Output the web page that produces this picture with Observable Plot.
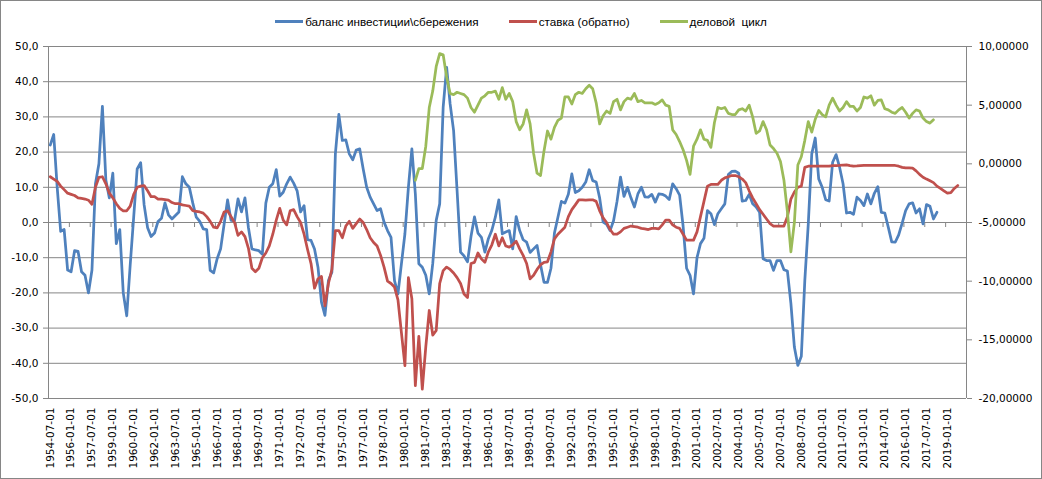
<!DOCTYPE html>
<html>
<head>
<meta charset="utf-8">
<script src="https://cdn.jsdelivr.net/npm/d3@7"></script>
<script src="https://cdn.jsdelivr.net/npm/@observablehq/plot@0.6"></script>
<style>
  html, body { margin: 0; padding: 0; background: #fff; }
  #chart { position: relative; width: 1042px; height: 479px; box-sizing: border-box; border: 1px solid #868686; background: #fff; overflow: hidden; }
  #legend { height: 36px; display: flex; justify-content: center; align-items: center; gap: 30px; font-family: "Liberation Sans", Arial, sans-serif; font-size: 11.7px; color: #000; padding-top: 4px; box-sizing: border-box; }
  .item { display: flex; align-items: center; gap: 2px; white-space: pre; }
  .sw { width: 28px; height: 3px; display: inline-block; }
  svg { display: block; }
</style>
</head>
<body>
<div id="chart">
  <div id="legend"></div>
</div>
<script>
// ---- categories (quarterly dates) ----
const firstYear = 1954, firstMonth = 7, quarterCount = 264;
const dates = [];
for (let k = 0; k < quarterCount; k++) {
  const m0 = firstMonth - 1 + 3 * k;
  const y = firstYear + Math.floor(m0 / 12), m = (m0 % 12) + 1;
  dates.push(`${y}-${String(m).padStart(2, "0")}-01`);
}
const labelEvery = 6;

// ---- series names ----
const seriesNames = ["баланс инвестиции\\сбережения", "ставка (обратно)", "деловой  цикл"];
const seriesColors = ["#4F81BD", "#C0504D", "#9BBB59"];

// ---- баланс инвестиции\сбережения (left axis), from 1954-07-01 ----
const balance = [
  22,25,10,-2.5,-2,-13.5,-14,-8,-8.2,-14,
  -15,-20,-13.5,11,16.7,33,12,7,14,-6,
  -2,-20,-26.5,-12,1.5,15.2,17,5,-1.5,-4,
  -3,0.3,1.2,5.6,2.2,1,2,3,13,11,
  10,5.5,1.5,0.3,-1.8,-2,-13.6,-14.3,-10.3,-7.5,
  -0.5,6.4,0.6,0.5,6.7,3,7,-1.5,-7.5,-7.8,
  -8,-9,5.5,10,11,15,7.5,8.6,11,12.9,
  11.2,9,3,4.8,-4.9,-5.1,-7.5,-12.7,-22.6,-26.4,
  -16.5,-14.1,19.5,30.7,23.3,23.5,19.5,17.8,20.6,20.9,
  15.2,10,7.2,5.3,3.4,3.9,0.1,-2.3,-4.2,-16.5,
  -20.3,-11.7,-3.2,10,20.9,8.1,-11.7,-12.7,-15,-20.3,
  -11.7,0.6,5.3,32.8,44.1,33.7,26.1,9.1,-8.4,-9.5,
  -11.2,-4,1.6,-3,-4.2,-8.4,-4.6,-2.2,1.5,6.4,
  -3.2,-2.7,-2.3,-7.5,1.7,-2.3,-4.9,-5.6,-8.5,-7.5,
  -6.5,-12,-17,-17,-13,-3,1.5,6.0,5.5,8.0,
  13.8,8.5,9.0,10,11.5,15,11.9,11.5,7.0,0.1,
  -0.5,-2.3,0.5,6,12.9,7.4,10,7,4.4,8.1,
  10,7.3,7.2,8,5.8,8.1,8,7.5,6.5,11,
  9.6,7.8,-1,-13,-15,-20.3,-10,-6.0,-4.5,3.4,
  2.5,-0.6,2.5,3.9,5.3,13.6,14.5,14.6,14.0,6.1,
  6.25,8,5.3,4.4,2.9,-10.3,-10.8,-10.8,-13.6,-10.8,
  -10.8,-13.4,-13.8,-23,-35.4,-40.6,-38,-16.5,-0.4,19.5,
  24,12.4,10,6.5,6.1,17.1,19.3,15.7,11,2.7,
  2.9,2.3,7.2,6.25,4.8,8.1,5.3,8.3,10.2,2.9,
  2.7,-1.3,-5.5,-5.6,-3.5,-0.2,3.4,5.3,5.6,2.7,
  3.9,-0.4,5.1,4.6,1.0,2.9
];

// ---- ставка (обратно) (right axis), from 1954-07-01 ----
const rate = [
  -1.1,-1.3,-1.5,-1.9,-2.2,-2.5,-2.6,-2.7,-2.9,-2.95,
  -3.0,-3.1,-3.45,-2.0,-1.15,-1.1,-1.7,-2.5,-2.9,-3.4,
  -3.8,-4.0,-4.0,-3.6,-2.6,-2.0,-1.9,-1.85,-2.3,-2.8,
  -2.8,-3.0,-3.0,-3.05,-3.1,-3.3,-3.4,-3.4,-3.5,-3.55,
  -3.6,-4.0,-4.05,-4.1,-4.2,-4.5,-4.9,-5.4,-5.45,-4.9,
  -4.1,-4.0,-4.5,-5.0,-6.1,-5.8,-6.2,-7.2,-8.9,-9.2,
  -8.9,-8.0,-7.6,-7.0,-6.0,-4.8,-3.8,-4.8,-5.2,-4.0,
  -3.9,-4.5,-5.0,-6.0,-7.3,-8.5,-10.6,-9.8,-9.6,-12.1,
  -10.2,-9.0,-5.7,-5.7,-6.3,-5.3,-4.9,-5.5,-5.1,-4.7,
  -5.0,-5.6,-6.3,-6.7,-7.0,-7.8,-8.8,-10.0,-10.2,-10.5,
  -11.6,-14.4,-17.2,-9.7,-11.5,-18.9,-14.7,-19.2,-15.6,-12.5,
  -14.6,-14.2,-10.2,-9.1,-8.8,-9.0,-9.3,-9.7,-10.2,-11.1,
  -11.4,-8.5,-8.4,-7.6,-8.1,-8.4,-7.5,-6.9,-6.0,-7.0,
  -6.3,-7.0,-7.1,-6.9,-6.6,-7.25,-7.8,-8.5,-9.8,-9.5,
  -9.0,-8.6,-8.4,-8.35,-7.5,-6.4,-6.0,-5.7,-5.4,-4.5,
  -3.9,-3.5,-3.07,-3.07,-3.1,-3.07,-3.07,-3.2,-4.0,-4.6,
  -5.0,-5.6,-6.0,-6.0,-5.8,-5.5,-5.4,-5.3,-5.35,-5.4,
  -5.5,-5.55,-5.6,-5.5,-5.5,-5.55,-5.2,-4.8,-4.8,-5.2,
  -5.4,-5.5,-6.0,-6.5,-6.5,-6.5,-5.8,-4.5,-3.2,-1.9,
  -1.76,-1.76,-1.76,-1.4,-1.2,-1.1,-1.0,-1.0,-1.1,-1.3,
  -1.6,-2.3,-2.9,-3.4,-3.9,-4.3,-4.7,-5.1,-5.3,-5.3,
  -5.3,-5.3,-4.5,-3.0,-2.4,-2.0,-1.9,-0.3,-0.2,-0.2,
  -0.2,-0.2,-0.2,-0.2,-0.2,-0.15,-0.15,-0.14,-0.1,-0.09,
  -0.15,-0.2,-0.18,-0.15,-0.14,-0.14,-0.14,-0.14,-0.14,-0.14,
  -0.14,-0.14,-0.14,-0.14,-0.2,-0.3,-0.35,-0.35,-0.37,-0.6,
  -0.9,-1.14,-1.3,-1.45,-1.6,-1.9,-2.1,-2.3,-2.5,-2.45,
  -2.1,-1.85
];

// ---- деловой цикл (right axis), from 1980-10-01 ----
const cycleStart = "1980-10-01";
const cycle = [
  -1.4,-0.4,-0.4,1.5,4.8,6.2,8.3,9.4,9.3,7.4,
  6.0,5.9,6.1,6.0,5.9,5.6,4.8,4.4,5.0,5.6,
  5.8,6.1,6.1,6.2,5.5,6.5,5.5,6.0,5.3,3.6,
  2.9,3.4,4.6,3.4,0.9,-0.8,-1.0,1.1,2.8,2.1,
  3.1,3.7,3.9,5.7,5.7,5.1,5.9,6.1,6.0,6.4,
  6.7,6.4,5.2,3.4,4.1,4.5,4.3,5.3,5.5,4.6,
  5.3,5.6,5.5,6.0,5.3,5.4,5.2,5.2,5.2,5.06,
  5.2,5.45,5.0,4.9,2.9,2.5,1.9,1.2,0.3,-0.9,
  1.5,2.1,2.9,2.1,2.0,1.4,3.5,4.8,4.7,4.8,
  4.3,4.2,4.2,4.6,4.7,4.5,5.0,4.0,2.6,2.8,
  3.6,2.9,1.6,1.3,0.9,0.2,-1.4,-4.1,-7.5,-5.0,
  -0.1,0.6,2.0,3.6,2.7,3.8,4.55,4.2,4.0,5.0,
  5.6,5.0,4.5,4.8,5.3,4.9,4.9,4.5,4.8,5.7,
  5.6,5.8,5.0,5.4,5.45,4.7,4.6,4.4,4.3,4.6,
  4.8,4.4,3.9,4.3,4.6,4.5,3.9,3.6,3.47,3.75
];

// ---- axis ticks ----
const leftTicks = [-50,-40,-30,-20,-10,0,10,20,30,40,50];
const rightTicks = [-20,-15,-10,-5,0,5,10];
const leftDomain = [-50, 50];
const rightDomain = [-20, 10];

// right-axis value -> left-axis units (both axes share the plot's height)
const toLeft = r => leftDomain[0] + (r - rightDomain[0]) * (leftDomain[1] - leftDomain[0]) / (rightDomain[1] - rightDomain[0]);
const toRight = v => rightDomain[0] + (v - leftDomain[0]) * (rightDomain[1] - rightDomain[0]) / (leftDomain[1] - leftDomain[0]);
const fmt1 = v => v.toFixed(1).replace(".", ",").replace("-0,0", "0,0");
const fmt5 = v => (Math.abs(v) < 1e-9 ? 0 : v).toFixed(5).replace(".", ",");

const n = dates.length;
const xDomain = [-0.5, n - 0.5];
const labelIdx = d3.range(0, n, labelEvery);
const boundaries = d3.range(labelEvery, n, labelEvery).map(k => k - 0.5);

const blueData = balance.map((v, i) => ({i, v}));
const redData = rate.map((r, i) => ({i, v: toLeft(r)}));
const g0 = dates.indexOf(cycleStart);
const greenData = cycle.map((r, k) => ({i: g0 + k, v: toLeft(r)}));

// legend
const legend = document.getElementById("legend");
seriesNames.forEach((name, k) => {
  const it = document.createElement("div");
  it.className = "item";
  const sw = document.createElement("span");
  sw.className = "sw"; sw.style.background = seriesColors[k];
  const tx = document.createElement("span");
  tx.textContent = name;
  it.append(sw, tx);
  legend.append(it);
});

const grid = "#868686";
const plot = Plot.plot({
  width: 1040,
  height: 441,
  marginLeft: 47,
  marginRight: 75,
  marginTop: 9,
  marginBottom: 80,
  style: {fontFamily: "'DejaVu Sans', Verdana, sans-serif", fontSize: "10.5px", color: "#000", background: "#fff"},
  x: {type: "linear", domain: xDomain, axis: null},
  y: {type: "linear", domain: leftDomain, axis: null},
  marks: [
    Plot.gridY(leftTicks, {stroke: grid, strokeOpacity: 1, strokeWidth: 1}),
    Plot.ruleX(xDomain, {stroke: grid, strokeWidth: 1}),
    Plot.ruleX(boundaries, {y1: 0, y2: 0, insetBottom: -5, stroke: grid, strokeWidth: 1}),
    Plot.axisY(leftTicks, {anchor: "left", tickSize: 5, tickPadding: 5, stroke: grid, fill: "#000", tickFormat: fmt1, label: null}),
    Plot.axisY(rightTicks.map(toLeft), {anchor: "right", tickSize: 5, tickPadding: 7, stroke: grid, fill: "#000", tickFormat: v => fmt5(toRight(v)), label: null}),
    Plot.axisX(labelIdx, {anchor: "bottom", tickSize: 0, tickPadding: 9, tickRotate: -90, fill: "#000", tickFormat: i => dates[i], label: null}),
    Plot.line(blueData, {x: "i", y: "v", stroke: seriesColors[0], strokeWidth: 2.75, strokeLinejoin: "round", strokeLinecap: "round"}),
    Plot.line(redData, {x: "i", y: "v", stroke: seriesColors[1], strokeWidth: 2.75, strokeLinejoin: "round", strokeLinecap: "round"}),
    Plot.line(greenData, {x: "i", y: "v", stroke: seriesColors[2], strokeWidth: 2.75, strokeLinejoin: "round", strokeLinecap: "round"})
  ]
});
document.getElementById("chart").append(plot);
</script>
</body>
</html>
